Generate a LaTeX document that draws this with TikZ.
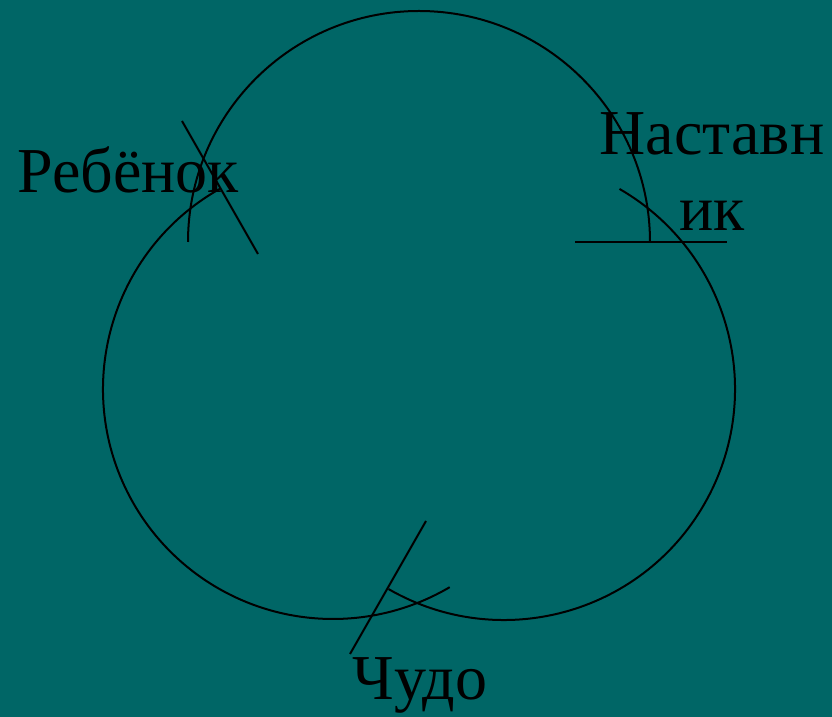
\documentclass[tikz,border=0pt]{standalone}
\usepackage{fontspec}
\setmainfont{Liberation Serif}
\usetikzlibrary{positioning,calc}
\definecolor{slidebg}{RGB}{0,102,102}

\tikzset{
    loop/.style={draw=black,line width=1.5pt},
    stroke/.style={draw=black,line width=1.5pt},
    word/.style={inner sep=0pt,text=black,font=\fontsize{48}{57}\selectfont}
}

\begin{document}
\begin{tikzpicture}[x=0.75pt,y=0.75pt]
    % Background
    \fill[slidebg] (0,0) rectangle (832,717);
    \useasboundingbox (0,0) rectangle (832,717);

    % Centres of the three circles
    \coordinate (ctop) at (419,475);
    \coordinate (cleft) at (333,328);
    \coordinate (cright) at (504,328);

    % Three arcs
    \draw[loop] ([shift={(180:231)}]ctop) arc[start angle=180,end angle=0,radius=231];
    \draw[loop] ([shift={(119.4:230)}]cleft) arc[start angle=119.4,end angle=300.5,radius=230];
    \draw[loop] ([shift={(60:231)}]cright) arc[start angle=60,end angle=-120,radius=231];

    % Cross strokes
    \coordinate (kida) at (182,596);
    \coordinate (kidb) at (258,463);
    \draw[stroke] (kida) -- (kidb);

    \coordinate (menta) at (575,475);
    \coordinate (mentb) at (727,475);
    \draw[stroke] (menta) -- (mentb);

    \coordinate (wona) at (350,63);
    \coordinate (wonb) at (426,196);
    \draw[stroke] (wona) -- (wonb);

    % Labels
    \node[word,anchor=base west] (child) at (17,524) {Ребёнок};
    \node[word,anchor=base,align=center] (mentor) at (712,486) {Наставн\\ик};
    \node[word,anchor=base] (miracle) at (420,17) {Чудо};
\end{tikzpicture}
\end{document}
